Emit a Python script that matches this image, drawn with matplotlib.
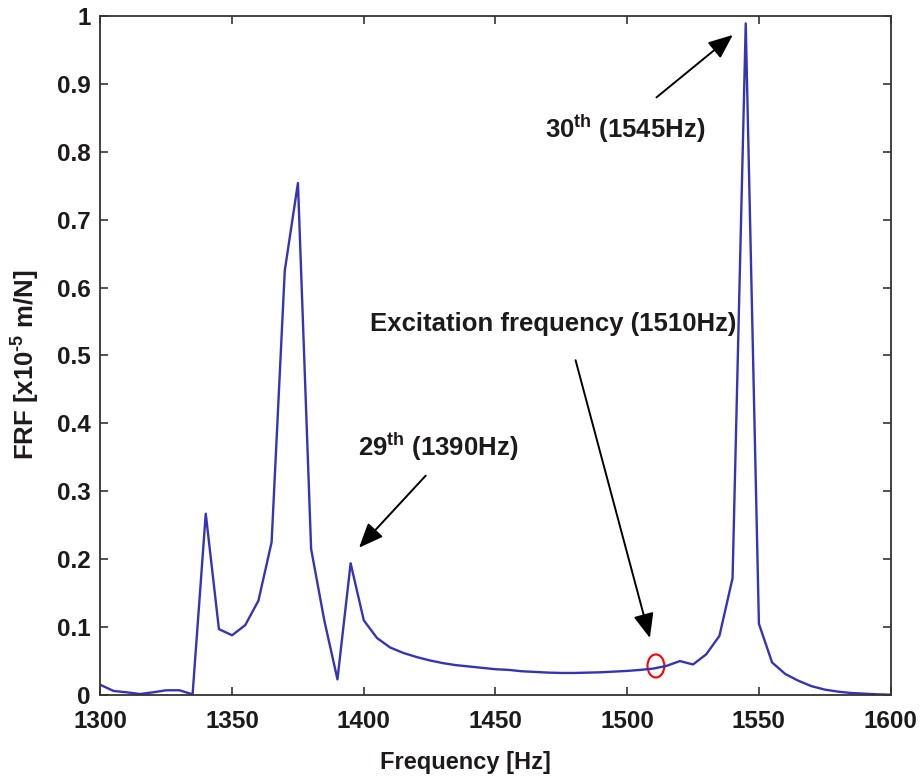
import numpy as np
import matplotlib
matplotlib.use('Agg')
import matplotlib.pyplot as plt
from matplotlib.patches import Ellipse

plt.rcParams['font.family'] = ['Liberation Sans', 'DejaVu Sans']
plt.rcParams['font.weight'] = 'bold'
plt.rcParams['mathtext.fontset'] = 'custom'
plt.rcParams['mathtext.rm'] = 'Liberation Sans:bold'
plt.rcParams['mathtext.bf'] = 'Liberation Sans:bold'
plt.rcParams['mathtext.it'] = 'Liberation Sans:bold'

# FRF, 5 Hz steps
freq = np.arange(1300, 1605, 5)
frf = [0.015, 0.006, 0.004, 0.0015, 0.004, 0.007, 0.007, 0.001, 0.267, 0.097,
       0.088, 0.103, 0.139, 0.225, 0.625, 0.754, 0.215, 0.110, 0.023, 0.194,
       0.110, 0.084, 0.070, 0.062, 0.056, 0.051, 0.047, 0.044, 0.042, 0.040,
       0.038, 0.037, 0.035, 0.034, 0.033, 0.0325, 0.0325, 0.033, 0.0335, 0.0345,
       0.0355, 0.037, 0.039, 0.043, 0.050, 0.045, 0.060, 0.087, 0.172, 0.989,
       0.105, 0.048, 0.031, 0.021, 0.013, 0.008, 0.005, 0.003, 0.002, 0.001,
       0.0005]

x_ticks = [1300, 1350, 1400, 1450, 1500, 1550, 1600]
y_ticks = [0, 0.1, 0.2, 0.3, 0.4, 0.5, 0.6, 0.7, 0.8, 0.9, 1]
y_labels = ['0', '0.1', '0.2', '0.3', '0.4', '0.5', '0.6', '0.7', '0.8', '0.9', '1']

# annotation texts: (text, x, y) and arrows: (tail, tip)
notes = [('Excitation frequency (1510Hz)', 1402.2, 0.546),
         ('29$^{\\rm th}$ (1390Hz)', 1397.7, 0.366),
         ('30$^{\\rm th}$ (1545Hz)', 1468.7, 0.833)]
arrows = [((1480.4, 0.493), (1508.6, 0.084)),
          ((1423.5, 0.323), (1398.2, 0.217)),
          ((1511.1, 0.880), (1540.1, 0.972))]
excite = (1510.9, 0.0428)

txt_col = '#1e1a1b'

fig = plt.figure(figsize=(9.21, 7.77), dpi=100)
ax = fig.add_axes([0.109, 0.1055, 0.858, 0.874])

ax.plot(freq, frf, color='#3434b6', lw=1.7)

for t, x, y in notes:
    ax.text(x, y, t, fontsize=18.5, fontweight='bold', color=txt_col,
            ha='left', va='center')

for tail, tip in arrows:
    ax.annotate('', xy=tip, xytext=tail,
                arrowprops=dict(arrowstyle='-|>,head_length=0.6,head_width=0.25',
                                mutation_scale=25, color='black', lw=1.4,
                                shrinkA=0, shrinkB=0))

ax.add_patch(Ellipse(excite, width=6.4, height=0.034, fill=False,
                     edgecolor='red', lw=1.5))

ax.set_xlim(1300, 1600)
ax.set_ylim(0, 1)
ax.set_xticks(x_ticks)
ax.set_yticks(y_ticks)
ax.set_yticklabels(y_labels)
ax.tick_params(direction='in', length=6, width=1.2, top=True, right=True,
               labelsize=17.5, colors='#333333', labelcolor=txt_col)
ax.tick_params(axis='x', pad=11)
ax.tick_params(axis='y', pad=7)
for s in ax.spines.values():
    s.set_linewidth(1.3)
    s.set_color('#333333')

ax.set_xlabel('Frequency [Hz]', fontsize=17, fontweight='bold', color=txt_col,
              va='center')
ax.xaxis.set_label_coords(0.462, -0.1)
ax.set_ylabel('FRF [x10$^{\\text{-5}}$ m/N]', fontsize=18.5, fontweight='bold',
              color=txt_col, va='center')
ax.yaxis.set_label_coords(-0.094, 0.486)

fig.savefig('out.png', dpi=100)
